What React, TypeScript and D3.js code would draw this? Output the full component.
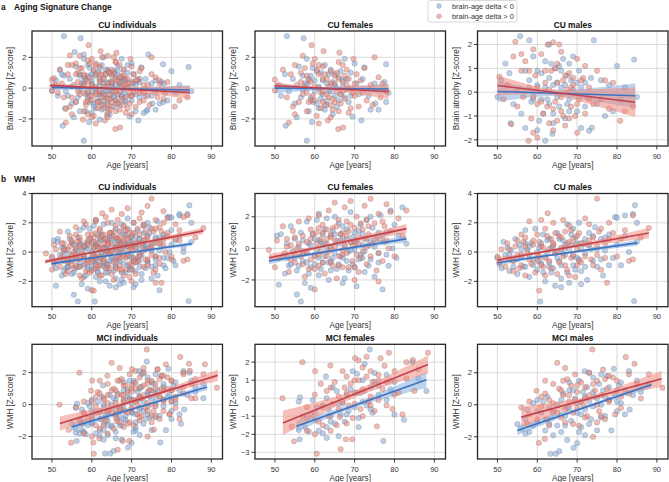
import React from "react";
import * as d3 from "d3";

type P = [number, number];

// ---------- data ----------
const xTicks = [50, 60, 70, 80, 90];
const legendLabels = ["brain-age delta < 0", "brain-age delta > 0"];

// Aging signature, CU females
const agingFemNeg: P[] = [[53,3.37],[57.2,3.24],[67.5,1.9],[77.9,1.55],[72.4,1.35],[58,-3.42],[52.7,-2.44],[71.7,-2.1],[59.3,-2.2],[69.5,-1.85],[75.2,-1.0],[76,-1.4],[77.9,-0.9],[78.5,-0.3],[77.5,0.4],[75,0.3],[73.5,-0.5],[70.5,0.3],[69,1.0],[68,0.6],[66.5,-0.4],[65,0.2],[64,1.2],[63,-0.8],[62,0.5],[61,-1.3],[60.5,1.1],[60,-0.2],[59,0.8],[58.5,-1.5],[57.5,0.3],[56.5,-0.6],[56,1.4],[55,-1.0],[54.5,0.6],[53.5,-0.2],[52.5,0.9],[51.5,-0.5],[50.5,0.1],[55.5,-1.9],[58,1.9],[61.5,-0.7],[63.5,0.9],[65.5,-1.2],[67,0.1],[68.5,-0.9],[70,1.6],[71,-0.4],[72,0.6],[74,-1.4],[62.5,1.5],[64.5,-1.7],[66,0.7],[59.5,-0.9],[57,-0.1],
[58,0.2],[59,-0.6],[60,0.5],[61,0.1],[62,-0.4],[63,0.3],[64,-0.2],[65,0.9],[66,-0.8],[67,0.5],[60.5,-1.0],[61.5,1.0],[62.5,-1.4],[63.5,-0.2],[64.5,0.4],[65.5,0.0],[66.5,1.1],[67.5,-0.6],[59.5,1.3],[58.5,0.6],[68,-0.1],[69,-0.5],[57,0.8],[63,-1.1],[65,-0.5]];
const agingFemPos: P[] = [[59.2,2.79],[62.2,2.4],[66.2,2.3],[69.7,1.9],[75,2.0],[53.5,-2.24],[65.9,-2.66],[67.1,-2.56],[63.3,-2.1],[50,0.55],[50,-0.15],[51,0.2],[52,1.2],[53,-0.6],[54,0.9],[54.5,-1.2],[55,1.5],[55.5,0.2],[56,-0.9],[56.5,1.0],[57,-0.4],[57.5,1.3],[58,-1.5],[58.5,0.5],[59,-0.8],[59.5,1.6],[60,0.1],[60.5,-1.8],[61,0.9],[61.5,-0.3],[62,1.4],[62.5,-1.1],[63,0.6],[63.5,-0.6],[64,1.1],[64.5,-1.4],[65,0.3],[65.5,-0.2],[66,1.7],[66.5,-1.0],[67,0.4],[67.5,-0.7],[68,1.2],[68.5,-1.6],[69,0.0],[70,-0.5],[70.5,0.9],[71,-1.2],[71.5,0.5],[72,-0.3],[72.5,1.3],[73,-0.8],[74,0.2],[74.5,-1.1],[76,0.7],[76.5,-0.6],[77,0.3],[78,-0.2],[61,-2.3],[60,1.9],[64,-1.9],[67,1.5],[58,0.8],[55,-1.7],[62,-0.9],[65,0.8],[69,-1.3],[57,2.1],
[58,-0.3],[59,0.4],[60,-0.8],[61,0.0],[62,0.6],[63,-0.4],[64,0.3],[65,-0.9],[66,0.6],[67,-0.2],[68,0.2],[60.5,1.2],[61.5,-1.3],[62.5,0.9],[63.5,0.1],[64.5,-0.7],[65.5,1.0],[66.5,-0.4],[67.5,0.8],[59.5,-0.5],[58.5,-0.9],[57.5,0.1],[56.5,0.4],[68.5,0.6],[69.5,-0.3],[70,0.3],[64,-1.1],[62,-0.2],[66,-1.5],[61,1.5]];

// Aging signature, CU males
const agingMalNeg: P[] = [[55.7,2.35],[58,2.18],[74.2,2.18],[84.3,1.37],[62,-2.04],[63.8,-1.75],[73.7,-1.49],[73,-1.62],[53.3,-1.3],[50,-0.2],[51,0.5],[52,1.2],[53,0.8],[54,-0.5],[55,0.1],[56,-0.9],[57,0.9],[58.5,-0.4],[59,1.5],[60,0.3],[60.5,-1.2],[61,0.8],[62,1.3],[62.5,-0.3],[63,0.6],[64,-0.9],[64.5,1.0],[65,0.4],[65.5,-0.6],[66,0.2],[66.5,1.4],[67,-1.1],[67.5,0.7],[68,-0.3],[68.5,0.5],[69,1.5],[70,-0.8],[70.5,0.9],[71,-1.5],[72,0.4],[72.5,-0.2],[73.5,0.6],[75,-0.5],[76,0.5],[77,-1.0],[78,0.3],[79,-0.8],[80,1.1],[81,-0.3],[82,0.2],[85,-0.2],[60,-1.6],[57,-1.5],[68,1.2],[63,2.0],
[60,0.9],[61,-0.3],[62,0.2],[63,-0.5],[64,0.3],[65,-0.2],[66,0.9],[67,0.3],[68,-0.8],[69,0.1],[61.5,-0.9],[63.5,1.2],[65.5,1.1],[67.5,-0.5],[70,0.4],[58,0.5],[59,-0.3],[71,0.2],[72,-0.6],[64,-1.3]];
const agingMalPos: P[] = [[54.5,2.12],[59,1.8],[62.6,2.0],[64,2.1],[65.5,2.0],[57.8,-2.04],[59,-1.7],[80.8,-1.2],[53.5,-1.35],[50.5,0.65],[51.5,-0.3],[52.5,0.3],[54,1.5],[55,-0.6],[56,0.9],[56.5,-0.2],[57,1.3],[58,0.2],[58.5,-1.1],[59.5,0.7],[60,-0.5],[61,1.6],[61.5,-0.9],[62,0.4],[63,-1.3],[63.5,0.9],[64.5,-0.4],[65,1.2],[66,-0.8],[66.5,0.5],[67,-1.4],[67.5,0.1],[68,0.8],[68.5,-0.6],[69,0.3],[69.5,-1.0],[70,1.4],[70.5,-0.3],[71.5,0.6],[72,-0.9],[73,0.2],[74,-0.5],[75,0.9],[76,-0.3],[77,0.5],[78,-0.7],[79,0.4],[82,-0.8],[84,-0.6],[60,-1.9],[66,1.7],[72,1.1],[64,-1.6],[56,1.6],[70,-1.7],
[60,0.2],[61,-0.4],[62,0.9],[63,0.1],[64,-0.7],[65,0.4],[66,-0.2],[67,0.7],[68,-1.1],[69,0.6],[62.5,-0.6],[64.5,1.0],[66.5,-1.0],[68.5,0.2],[70,-0.5],[58,0.9],[59,-0.2],[71,0.5],[73,-0.3],[65,-1.2]];

// WMH, CU females
const wmhCuFemNeg: P[] = [[56.5,-3.37],[55.5,-2.92],[51,-2.3],[50.5,0.8],[51.5,0.9],[52,-0.5],[52.5,-1.6],[53,0.3],[53.5,-1.1],[54,1.4],[54.5,-0.2],[55,0.6],[55.5,-1.4],[56,0.1],[56.5,1.0],[57,-0.8],[57.5,-2.2],[58,1.7],[58.5,0.3],[59,-1.2],[59.5,0.9],[60,-0.4],[60.5,1.8],[61,-1.7],[61.5,0.4],[62,-0.9],[62.5,1.2],[63,-0.1],[63.5,-2.0],[64,0.8],[64.5,-0.6],[65,2.0],[65.5,-1.3],[66,0.3],[66.5,-0.5],[67,1.4],[67.5,-1.9],[68,0.6],[68.5,-0.2],[69,2.3],[69.5,-1.0],[70,0.5],[70.5,-2.4],[71,1.1],[71.5,-0.4],[72,0.9],[72.5,-1.5],[73,1.8],[73.5,0.2],[74,-0.7],[74.5,1.3],[75,-1.8],[75.5,0.6],[76,-0.3],[76.5,2.1],[77,-2.6],[77.5,0.4],[78,1.0],[78.5,-1.1],[79,2.4],[79.5,0.0],[80,1.5],[80.5,-0.6],[81,0.8],[82,2.6],[83,0.3],[58,-0.3],[60,0.6],[62,0.2],[64,-1.4],[66,1.6],[68,-0.8],[70,-0.1],[63,1.9],[59,-2.5],[67,-2.2],[61,2.2],[65,0.9],[69,0.4],[72,-0.6],[57,0.5],[74,2.0],[76,1.0],
[55,-0.6],[56,-1.1],[57,-0.2],[58,-0.9],[59,0.2],[60,-1.0],[60.5,-0.1],[61,0.5],[61.5,-1.3],[62,0.9],[62.5,-0.5],[63,0.3],[63.5,-0.9],[64,0.1],[64.5,1.1],[65,-0.3],[65.5,0.5],[66,-1.0],[66.5,0.9],[67,-0.6],[67.5,0.2],[68,1.2],[68.5,-1.4],[69,-0.1],[69.5,0.7],[70,-1.2],[70.5,0.4],[71,-0.7],[71.5,1.5],[72,0.2],[72.5,-0.2],[73,0.6],[73.5,-1.1],[74,0.4],[75,0.1],[76,-0.9],[77,0.8],[78,-0.4],[53,-0.6],[54,-1.0],[58.5,-1.6],[61,-0.6],[64,-0.8],[67,0.6],[70,1.0]];
const wmhCuFemPos: P[] = [[48.5,-0.1],[50,-1.2],[50.5,0.5],[51,-0.6],[52,1.4],[52.5,-0.3],[53,0.6],[53.5,-1.5],[54,0.2],[54.5,1.1],[55,-0.9],[55.5,0.0],[56,1.7],[56.5,-0.5],[57,0.8],[57.5,-1.8],[58,0.4],[58.5,1.9],[59,-0.7],[59.5,0.9],[60,-1.3],[60.5,0.3],[61,2.1],[61.5,-0.2],[62,1.0],[62.5,-1.6],[63,0.6],[63.5,2.4],[64,-0.9],[64.5,1.3],[65,0.1],[65.5,-1.9],[66,1.8],[66.5,0.5],[67,-0.4],[67.5,2.6],[68,0.8],[68.5,-1.2],[69,1.5],[69.5,0.2],[70,-2.0],[70.5,2.0],[71,0.7],[71.5,-0.6],[72,1.2],[72.5,2.7],[73,-1.0],[73.5,0.9],[74,3.15],[74.5,0.3],[75,1.6],[75.5,-1.4],[76,2.2],[76.5,0.6],[77,-0.8],[77.5,1.4],[78,2.8],[78.5,0.0],[79,1.1],[80,-0.5],[81,1.9],[82,0.8],[83,2.4],[60,-2.6],[62,1.5],[64,0.0],[66,-1.1],[68,1.7],[70,0.4],[65,2.9],[59,1.2],[57,-0.3],[63,-0.5],[67,1.0],[71,-1.5],[69,3.0],[73,1.8],[55,0.7],[61,-1.1],[76,-2.1],[79,2.3],
[55,-0.4],[56,0.3],[57,-1.0],[58,-0.2],[59,0.6],[60,-0.5],[60.5,1.0],[61,-0.4],[61.5,0.6],[62,-0.9],[62.5,0.3],[63,1.2],[63.5,-0.2],[64,0.7],[64.5,-1.1],[65,0.5],[65.5,1.4],[66,-0.5],[66.5,0.9],[67,-1.2],[67.5,0.2],[68,-0.3],[68.5,1.1],[69,0.4],[69.5,-0.8],[70,1.3],[70.5,-0.4],[71,0.3],[71.5,1.6],[72,-0.2],[72.5,0.6],[73,0.1],[73.5,1.4],[74,-0.5],[75,0.6],[76,-0.3],[77,1.7],[78,0.5],[53,0.1],[54,-0.7],[58.5,-1.3],[61,1.3],[64,0.9],[67,-0.1],[70,-1.2]];

// WMH, CU males
const wmhCuMalNeg: P[] = [[60.75,-3.38],[84.3,-3.35],[84.5,3.2],[84,2.6],[82,2.5],[79.5,2.4],[80,2.35],[85,2.0],[50,-0.4],[50.5,-0.8],[51,-1.1],[51.5,0.7],[52,-0.2],[52.5,0.3],[53,-1.3],[53.5,0.1],[54,-0.6],[54.5,0.9],[55,-1.5],[55.5,0.5],[56,-0.3],[56.5,-1.0],[57,1.5],[57.5,0.2],[58,-1.7],[58.5,0.6],[59,-0.5],[59.5,1.6],[60,-1.2],[60.5,0.3],[61,-0.8],[61.5,1.2],[62,-2.0],[62.5,0.0],[63,0.9],[63.5,-1.4],[64,0.4],[64.5,-2.3],[65,1.3],[65.5,-0.6],[66,-1.8],[66.5,0.8],[67,-0.2],[67.5,1.9],[68,-2.1],[68.5,0.5],[69,-0.9],[69.5,1.0],[70,-0.4],[70.5,2.0],[71,-1.3],[71.5,0.6],[72,-0.1],[72.5,-1.9],[73,1.3],[73.5,0.2],[74,-0.6],[74.5,1.7],[75,-1.0],[76,0.9],[76.5,-1.6],[77,0.1],[78,1.2],[79,-0.4],[80,0.5],[81,-0.9],[82,1.1],[83,0.0],[85,0.7],[63,-1.0],[66,0.2],[69,1.6],[72,0.9],[58,-0.2],
[55,-0.5],[56,0.2],[57,-1.0],[58,0.4],[59,-0.9],[60,0.0],[60.5,-0.6],[61,0.6],[61.5,-1.4],[62,-0.3],[62.5,0.8],[63,-0.7],[63.5,0.3],[64,-1.1],[64.5,0.0],[65,-0.4],[65.5,0.9],[66,-0.9],[66.5,-0.1],[67,0.5],[67.5,-1.4],[68,0.2],[68.5,1.2],[69,-0.3],[69.5,-1.2],[70,0.6],[70.5,-0.5],[71,0.3],[72,-1.0],[73,0.5],[74,1.1],[75,0.2],[76,-0.5],[77,1.0],[78,-0.9],[53,-0.2],[54,-1.0],[57,0.6],[66,-2.4],[71,-2.2]];
const wmhCuMalPos: P[] = [[75,3.65],[62.6,2.65],[88,1.65],[84,2.5],[50,-0.3],[50.5,-0.7],[51,0.2],[52,-1.0],[52.5,0.6],[53,-0.5],[54,-1.3],[54.5,0.4],[55,0.8],[55.5,-1.1],[56,-0.2],[56.5,0.7],[57,-1.6],[57.5,0.0],[58,2.1],[58.5,-0.8],[59,0.5],[59.5,-1.4],[60,1.2],[60.5,-0.3],[61,0.4],[61.5,-1.0],[62,1.6],[63,-0.6],[63.5,0.9],[64,2.0],[64.5,-0.1],[65,-1.5],[65.5,1.1],[66,0.3],[66.5,2.2],[67,-0.9],[67.5,0.6],[68,1.8],[68.5,-0.4],[69,0.9],[69.5,-1.7],[70,0.2],[70.5,1.3],[71,-0.7],[72,2.3],[72.5,0.5],[73,1.9],[73.5,-0.5],[74,1.0],[75,-0.2],[75.5,1.4],[76,-1.2],[77,0.6],[77.5,-2.1],[78,2.0],[79,1.3],[80,-0.3],[81,0.9],[82,1.5],[83,-0.6],[84,-0.5],[86,1.0],[60,-0.6],[64,0.6],[67,1.4],[70,-0.9],[56,1.2],[61,2.2],[60.5,-2.63],
[55,-0.2],[56,-0.9],[57,0.4],[58,-0.5],[59,0.8],[60,-0.2],[60.5,0.7],[61,-0.9],[61.5,0.3],[62,-0.4],[62.5,1.1],[63,0.2],[63.5,-1.1],[64,0.5],[64.5,1.3],[65,0.0],[65.5,-0.7],[66,1.0],[66.5,-0.3],[67,0.3],[67.5,-1.2],[68,0.7],[68.5,1.5],[69,-0.2],[69.5,0.5],[70,1.1],[70.5,-0.6],[71,0.6],[72,-0.3],[73,0.8],[74,-0.9],[75,0.4],[76,1.6],[77,-0.4],[78,0.9],[53,0.2],[54,-0.6],[57,1.0],[62,-1.6],[68,-1.6]];

// WMH, MCI females
const wmhMciFemNeg: P[] = [[56,-0.19],[56.3,0.05],[56,-1.76],[56.2,-2.28],[57.5,-1.6],[58.5,-1.85],[59.5,-0.1],[60,-1.2],[61,-1.8],[62,-1.95],[62.8,1.2],[63,-1.6],[63.5,-0.6],[64,-1.0],[64.5,0.6],[65,-1.4],[65.5,0.4],[66,-2.11],[66.5,-0.9],[67,-0.3],[67.5,-1.3],[68,0.2],[68.5,-0.7],[69,0.5],[70,-0.5],[70.6,1.36],[71,-1.1],[71.5,0.3],[72,1.0],[72.5,1.9],[73,-0.4],[73.8,2.7],[74,0.6],[74.5,-0.8],[75,0.9],[76,0.2],[77.2,-2.37],[78,1.3],[79,0.5],[80,-0.9],[82.4,-1.2],[84.5,2.0],[86,1.1],[88,0.4],[69.5,1.5],[63,0.0],[60.5,-0.5],
[58,-1.1],[60,-0.8],[62,-0.4],[64,-1.3],[66,-0.3],[68,-0.9],[70,0.3],[72,-0.2],[74,-0.6],[76,0.7],[78,-0.1],[80,0.9],[63,-2.2],[71,-1.6],[75,1.4]];
const wmhMciFemPos: P[] = [[51.9,0.0],[54.2,-1.58],[54.8,-2.39],[56.9,2.0],[58,-1.8],[59,-0.9],[60.1,1.5],[60.5,-3.08],[61,-1.3],[62,-0.5],[63,0.4],[63.5,-1.0],[63.9,1.81],[64.5,-0.3],[65,0.9],[65.5,-1.5],[66.3,-1.04],[66.5,-2.82],[67,1.5],[67.5,0.6],[67.8,-2.28],[68,1.2],[68.5,-0.4],[69,0.8],[69.4,-2.28],[69.5,-1.1],[70.1,2.22],[70.5,0.3],[71,1.0],[71.5,-0.6],[72,1.7],[72.5,0.4],[73,1.2],[73.5,-0.2],[74,1.5],[74.5,0.9],[75,-0.7],[75.6,-1.56],[76,1.3],[76.5,2.22],[77,0.5],[77.5,1.8],[78,-0.4],[78.6,2.52],[79,1.0],[79.5,-0.6],[80,1.5],[81,0.3],[82,-0.9],[83,1.1],[84.6,2.12],[85,0.4],[86,1.6],[88.4,2.52],[61.5,0.8],[64,-1.8],[66,0.1],[68,-1.4],[70,-0.3],[72,-1.0],[74,0.1],[71,2.1],[76,-0.1],[60,-2.0],[57,-1.0],
[58,-0.5],[60,0.2],[62,-1.5],[64,0.6],[66,-0.6],[68,0.3],[70,1.0],[72,0.5],[74,-0.4],[76,1.0],[78,0.9],[80,0.2],[83,2.0],[67,-0.2],[73,2.3]];

// WMH, MCI males
const wmhMciMalNeg: P[] = [[55,-1.2],[56,-1.5],[57,-0.9],[58,-1.7],[59,0.1],[60,-1.1],[61,-0.5],[61.5,0.2],[62,-1.6],[62.5,0.5],[63.3,-3.06],[63.5,-0.8],[64,-1.9],[64.6,-3.06],[65,0.0],[65.5,-2.9],[66,-0.6],[66.5,0.7],[67,-1.3],[67.5,-0.2],[68,0.9],[68.5,-1.0],[69.1,-2.69],[69.5,0.4],[70,-0.5],[70.5,1.5],[71,-1.4],[71.5,0.8],[71.9,2.1],[72,-0.3],[72.5,1.1],[73,0.2],[73.5,-0.9],[74,1.7],[74.5,0.5],[75,-1.6],[75.5,1.3],[76,0.0],[76.5,0.9],[77,-0.7],[77.5,1.8],[78,0.3],[78.6,-1.6],[79.2,2.25],[79.5,0.6],[80,-0.4],[80.5,1.2],[81,0.1],[82,0.9],[83,2.1],[83.2,-0.3],[84,0.6],[85,1.5],[86,0.8],[88,1.3],[70,-2.4],[72,-1.9],[74,-0.1],[66,-1.7],[68,1.4],[76,1.9],[60,0.3],[63,-1.2],[73,2.0],[57.5,-0.3],
[57,-1.8],[59,-1.3],[60,-0.4],[62,-0.9],[63,-0.2],[64,-0.5],[65,-1.3],[66,0.3],[67,-0.7],[68,-0.2],[69,0.9],[70,0.1],[71,-0.6],[72,0.5],[73,-1.2],[74,0.8],[75,0.4],[76,-0.8],[77,0.5],[78,1.1],[80,0.2],[81,1.4],[82,-0.6],[70.5,-1.7],[67.5,-2.2]];
const wmhMciMalPos: P[] = [[56,-0.17],[57.5,-1.2],[58,-0.6],[59.8,0.87],[60.4,-2.38],[61,0.5],[61.9,-2.13],[62.5,-0.9],[63,0.3],[64,-0.4],[65,2.62],[65.5,1.0],[66,-0.8],[66.5,0.6],[67,-1.1],[67.5,1.6],[68,0.2],[68.5,1.2],[69,-0.5],[69.5,1.9],[70,0.8],[70.5,-1.3],[71,1.4],[71.5,0.0],[72,1.1],[72.5,-0.7],[73,2.0],[73.8,3.45],[74,-2.0],[74.5,0.9],[75,1.5],[75.5,-0.4],[76,0.6],[76.5,2.2],[77,-0.9],[77.5,1.0],[78,0.3],[79,1.7],[79.5,-0.6],[80,0.9],[81,-0.2],[82.2,2.98],[83,0.7],[84.4,2.56],[85,1.3],[86,0.4],[88,1.9],[91.4,1.06],[64,1.3],[70,-0.2],[72,0.4],[75,-1.1],[67,2.3],[78,1.8],[62,1.5],
[58,0.2],[60,-0.9],[61,-0.1],[62,0.7],[63,-1.3],[64,0.1],[65,-0.5],[66,0.9],[67,-0.3],[68,0.6],[69,-1.2],[70,1.2],[71,0.2],[72,-0.8],[73,0.6],[74,1.3],[75,0.0],[76,-0.7],[77,1.6],[78,0.2],[80,1.5],[81,0.5],[83,1.9],[69.5,0.3],[66.5,1.5]];

// regression fits: [xStart, yStart, xEnd, yEnd, ciStart, ciMin, ciEnd, xAtCiMin]
const fitAgingIndNeg = [50, 0.05, 84.6, -0.12, 0.18, 0.07, 0.3, 63];
const fitAgingIndPos = [49.5, 0.18, 84.6, -0.28, 0.18, 0.07, 0.42, 63];
const fitAgingFemNeg = [50, 0.0, 78.5, -0.06, 0.33, 0.1, 0.33, 63];
const fitAgingFemPos = [50, 0.15, 78.5, -0.22, 0.2, 0.08, 0.48, 62];
const fitAgingMalNeg = [50, 0.03, 84.6, -0.15, 0.43, 0.12, 0.52, 64];
const fitAgingMalPos = [50, 0.28, 84.6, -0.42, 0.42, 0.12, 0.62, 63];
const fitCuIndNeg = [50, -0.79, 85.1, 0.57, 0.12, 0.05, 0.15, 64];
const fitCuIndPos = [48.3, -0.65, 88, 1.45, 0.15, 0.06, 0.22, 64];
const fitCuFemNeg = [48.5, -0.8, 83, 0.6, 0.2, 0.08, 0.22, 64];
const fitCuFemPos = [48.5, -0.6, 83, 1.25, 0.25, 0.08, 0.3, 64];
const fitCuMalNeg = [50, -0.73, 85.1, 0.63, 0.18, 0.07, 0.2, 65];
const fitCuMalPos = [50, -0.54, 88, 1.3, 0.2, 0.08, 0.35, 65];
const fitMciIndNeg = [54.9, -1.4, 88.9, 1.1, 0.25, 0.08, 0.2, 72];
const fitMciIndPos = [52, -1.19, 91.6, 1.83, 0.45, 0.1, 0.35, 72];
const fitMciFemNeg = [55.4, -1.55, 88, 1.02, 0.3, 0.12, 0.45, 70];
const fitMciFemPos = [52, -1.37, 88.4, 1.87, 0.68, 0.2, 0.5, 71];
const fitMciMalNeg = [55, -1.6, 88.6, 1.25, 0.3, 0.1, 0.22, 72];
const fitMciMalPos = [56, -0.77, 91.2, 1.62, 0.65, 0.15, 0.5, 73];

// ---------- layout / style ----------
const W = 669, H = 482;
const colLeft = [32, 255, 477.5];
const panelW = 190.5;
const rowBox = [
  { top: 31, bottom: 146 },
  { top: 193.5, bottom: 306.7 },
  { top: 344.3, bottom: 459 },
];
const FONT = "'Liberation Sans', Arial, Helvetica, sans-serif";
const BLUE_PT = "#86a9d6", RED_PT = "#e58579";
const BLUE_LN = "#3b72c2", RED_LN = "#c0424d";
const BLUE_BAND = "#86aee0", RED_BAND = "#ee8a80";

interface PanelSpec {
  title: string; row: number; col: number; ylabel: string;
  neg: P[]; pos: P[]; fitNeg: number[]; fitPos: number[]; yTicks: number[];
}

const panels: PanelSpec[] = [
  { title: "CU individuals", row: 0, col: 0, ylabel: "Brain atrophy [Z-score]", neg: [...agingFemNeg, ...agingMalNeg], pos: [...agingFemPos, ...agingMalPos], fitNeg: fitAgingIndNeg, fitPos: fitAgingIndPos, yTicks: [-2, 0, 2] },
  { title: "CU females", row: 0, col: 1, ylabel: "Brain atrophy [Z-score]", neg: agingFemNeg, pos: agingFemPos, fitNeg: fitAgingFemNeg, fitPos: fitAgingFemPos, yTicks: [-2, 0, 2] },
  { title: "CU males", row: 0, col: 2, ylabel: "Brain atrophy [Z-score]", neg: agingMalNeg, pos: agingMalPos, fitNeg: fitAgingMalNeg, fitPos: fitAgingMalPos, yTicks: [-2, -1, 0, 1, 2] },
  { title: "CU individuals", row: 1, col: 0, ylabel: "WMH [Z-score]", neg: [...wmhCuFemNeg, ...wmhCuMalNeg], pos: [...wmhCuFemPos, ...wmhCuMalPos], fitNeg: fitCuIndNeg, fitPos: fitCuIndPos, yTicks: [-2, 0, 2, 4] },
  { title: "CU females", row: 1, col: 1, ylabel: "WMH [Z-score]", neg: wmhCuFemNeg, pos: wmhCuFemPos, fitNeg: fitCuFemNeg, fitPos: fitCuFemPos, yTicks: [-2, 0, 2, 4] },
  { title: "CU males", row: 1, col: 2, ylabel: "WMH [Z-score]", neg: wmhCuMalNeg, pos: wmhCuMalPos, fitNeg: fitCuMalNeg, fitPos: fitCuMalPos, yTicks: [-2, 0, 2, 4] },
  { title: "MCI individuals", row: 2, col: 0, ylabel: "WMH [Z-score]", neg: [...wmhMciFemNeg, ...wmhMciMalNeg], pos: [...wmhMciFemPos, ...wmhMciMalPos], fitNeg: fitMciIndNeg, fitPos: fitMciIndPos, yTicks: [-2, 0, 2] },
  { title: "MCI females", row: 2, col: 1, ylabel: "WMH [Z-score]", neg: wmhMciFemNeg, pos: wmhMciFemPos, fitNeg: fitMciFemNeg, fitPos: fitMciFemPos, yTicks: [-3, -2, -1, 0, 1, 2, 3] },
  { title: "MCI males", row: 2, col: 2, ylabel: "WMH [Z-score]", neg: wmhMciMalNeg, pos: wmhMciMalPos, fitNeg: fitMciMalNeg, fitPos: fitMciMalPos, yTicks: [-2, 0, 2] },
];

function bandPoints(f: number[]) {
  const [x0, y0, x1, y1, h0, hc, h1, xc] = f;
  const k0 = (h0 * h0 - hc * hc) / ((x0 - xc) * (x0 - xc));
  const k1 = (h1 * h1 - hc * hc) / ((x1 - xc) * (x1 - xc));
  return d3.range(0, 41).map((i) => {
    const x = x0 + ((x1 - x0) * i) / 40;
    const y = y0 + ((x - x0) * (y1 - y0)) / (x1 - x0);
    const k = x < xc ? k0 : k1;
    const hw = Math.sqrt(hc * hc + k * (x - xc) * (x - xc));
    return { x, lo: y - hw, hi: y + hw, y };
  });
}

function Panel({ p }: { p: PanelSpec }) {
  const left = colLeft[p.col];
  const right = left + panelW;
  const { top, bottom } = rowBox[p.row];
  const bn = bandPoints(p.fitNeg);
  const bp = bandPoints(p.fitPos);
  const ys = [
    ...p.neg.map((d) => d[1]), ...p.pos.map((d) => d[1]),
    ...bn.flatMap((d) => [d.lo, d.hi]), ...bp.flatMap((d) => [d.lo, d.hi]),
  ];
  const [ymin, ymax] = d3.extent(ys) as [number, number];
  const pad = (ymax - ymin) * 0.05;
  const x = d3.scaleLinear().domain([45, 92.8]).range([left, right]);
  const y = d3.scaleLinear().domain([ymin - pad, ymax + pad]).range([bottom, top]);
  const yt = p.yTicks.filter((t) => t >= ymin - pad && t <= ymax + pad);
  const area = d3.area<{ x: number; lo: number; hi: number }>()
    .x((d) => x(d.x)).y0((d) => y(d.lo)).y1((d) => y(d.hi));
  const line = (f: number[]) =>
    d3.line<number>().x((v) => x(v)).y((v) => y(f[1] + ((v - f[0]) * (f[3] - f[1])) / (f[2] - f[0])))([f[0], f[2]]) || "";
  const cx = (left + right) / 2;
  const gridC = "#d6d6d6";
  return (
    <g>
      {xTicks.map((t) => (
        <line key={"gx" + t} x1={x(t)} x2={x(t)} y1={top} y2={bottom} stroke={gridC} strokeWidth={0.9} />
      ))}
      {yt.map((t) => (
        <line key={"gy" + t} x1={left} x2={right} y1={y(t)} y2={y(t)} stroke={gridC} strokeWidth={0.9} />
      ))}
      <g>
        {p.neg.map((d, i) => (
          <circle key={"n" + i} cx={x(d[0])} cy={y(d[1])} r={2.7} fill={BLUE_PT} fillOpacity={0.55} stroke="#4d5a6a" strokeOpacity={0.45} strokeWidth={0.5} />
        ))}
      </g>
      <path d={area(bn) || ""} fill={BLUE_BAND} fillOpacity={0.55} />
      <g>
        {p.pos.map((d, i) => (
          <circle key={"p" + i} cx={x(d[0])} cy={y(d[1])} r={2.7} fill={RED_PT} fillOpacity={0.55} stroke="#6a4a4a" strokeOpacity={0.45} strokeWidth={0.5} />
        ))}
      </g>
      <path d={area(bp) || ""} fill={RED_BAND} fillOpacity={0.55} />
      <path d={line(p.fitNeg)} stroke={BLUE_LN} strokeWidth={1.6} fill="none" />
      <path d={line(p.fitPos)} stroke={RED_LN} strokeWidth={1.6} fill="none" />
      <rect x={left} y={top} width={panelW} height={bottom - top} fill="none" stroke="#262626" strokeWidth={1.3} />
      {xTicks.map((t) => (
        <g key={"xt" + t}>
          <line x1={x(t)} x2={x(t)} y1={bottom} y2={bottom + 3.5} stroke="#262626" strokeWidth={0.9} />
          <text x={x(t)} y={bottom + 12.5} textAnchor="middle" fontSize={7.5} fill="#333">{t}</text>
        </g>
      ))}
      {yt.map((t) => (
        <g key={"yt" + t}>
          <line x1={left - 3.5} x2={left} y1={y(t)} y2={y(t)} stroke="#262626" strokeWidth={0.9} />
          <text x={left - 5.5} y={y(t) + 2.7} textAnchor="end" fontSize={7.5} fill="#333">{t < 0 ? "\u2212" + Math.abs(t) : t}</text>
        </g>
      ))}
      <text x={cx} y={bottom + 21.5} textAnchor="middle" fontSize={8.2} fill="#333">Age [years]</text>
      <text transform={`translate(${left - 19},${(top + bottom) / 2}) rotate(-90)`} textAnchor="middle" fontSize={8.2} fill="#333">{p.ylabel}</text>
      <text x={cx} y={top - 3.2} textAnchor="middle" fontSize={8.4} fontWeight="bold" fill="#111">{p.title}</text>
    </g>
  );
}

export default function App() {
  return (
    <svg width={W} height={H} viewBox={`0 0 ${W} ${H}`} style={{ position: "fixed", left: 0, top: 0, background: "#fff", fontFamily: FONT }}>
      <rect width={W} height={H} fill="#fff" />
      <text x={1} y={9.5} fontSize={8.4} fontWeight="bold" fill="#111">a</text>
      <text x={14} y={9.5} fontSize={8.4} fontWeight="bold" fill="#111">Aging Signature Change</text>
      <text x={1} y={181.5} fontSize={8.4} fontWeight="bold" fill="#111">b</text>
      <text x={14} y={181.5} fontSize={8.4} fontWeight="bold" fill="#111">WMH</text>
      {panels.map((p, i) => <Panel key={i} p={p} />)}
      <g>
        <rect x={428} y={0.5} width={89} height={21.5} rx={2} fill="#fff" fillOpacity={0.9} stroke="#d0d0d0" strokeWidth={0.8} />
        {legendLabels.map((l, i) => (
          <g key={l}>
            <circle cx={439} cy={6 + i * 10.3} r={2.4} fill={i === 0 ? BLUE_PT : RED_PT} fillOpacity={0.6} stroke="#555" strokeOpacity={0.4} strokeWidth={0.5} />
            <text x={452} y={8.7 + i * 10.3} fontSize={7.4} fill="#333">{l}</text>
          </g>
        ))}
      </g>
    </svg>
  );
}
